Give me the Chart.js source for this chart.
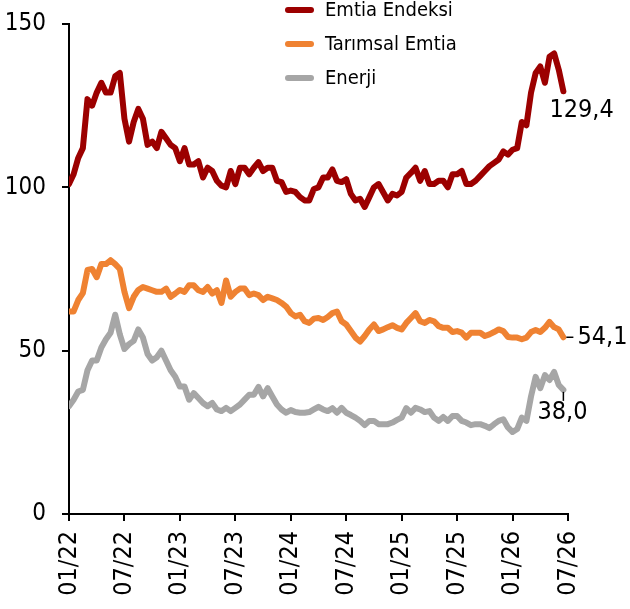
<!DOCTYPE html>
<html>
<head>
<meta charset="utf-8">
<script src="https://cdn.jsdelivr.net/npm/chart.js@4.4.0/dist/chart.umd.min.js"></script>
<style>
  html, body { margin: 0; padding: 0; background: #fff; }
</style>
</head>
<body>
<canvas id="chart" width="630" height="609"></canvas>
<script>
// tick labels every 6 months, data every half month from 01/22
const tickLabels = ['01/22', '07/22', '01/23', '07/23', '01/24', '07/24', '01/25', '07/25', '01/26', '07/26'];
const seriesNames = ['Emtia Endeksi', 'Tarımsal Emtia', 'Enerji'];

const emtia = [
  101, 104, 109, 112, 127, 125, 129, 132, 129, 129, 134, 135,
  121, 114, 120, 124, 121, 113, 114, 112, 117, 115, 113, 112,
  108, 112, 107, 107, 108, 103, 106, 105, 102, 100.5, 100, 105,
  101, 106, 106, 104, 106, 107.7, 105, 106, 106, 102, 101.6, 98.6,
  99, 98.6, 97, 96, 96, 99.5, 100, 103, 103, 105.5, 102, 101.6,
  102.5, 98, 96, 96.5, 94, 97, 100, 101, 98.5, 96, 98, 97.5,
  98.6, 103, 104.4, 106, 102, 105, 101, 101, 102, 102, 100, 104,
  104, 105, 101, 101, 102, 103.5, 105, 106.5, 107.5, 108.5, 111, 110,
  111.5, 112, 120, 119, 129, 135, 137, 132, 140, 141, 136, 129.4
];
const tarim = [
  62, 62, 65.5, 67.6, 74.7, 75, 72.5, 76.5, 76.5, 77.7, 76.5, 75,
  68, 63, 66.5, 68.6, 69.5, 69, 68.5, 68, 68, 69, 66.5, 67.5,
  68.6, 68, 70, 70, 68.5, 68, 69.5, 67.5, 68.5, 64.6, 71.5, 66.5,
  68, 69, 69, 67, 67.5, 67, 65.5, 66.5, 66, 65.5, 64.6, 63.5,
  61.5, 60.5, 61, 59, 58.5, 59.8, 60, 59.4, 60.3, 61.5, 62, 59,
  58, 56, 54, 52.8, 54.5, 56.5, 58, 56, 56.5, 57.2, 57.8, 57,
  56.5, 58.5, 60, 61.5, 59, 58.5, 59.4, 59, 57.5, 57, 57, 55.7,
  56, 55.5, 54, 55.5, 55.5, 55.5, 54.5, 55, 55.7, 56.5, 56, 54.2,
  54, 54, 53.5, 54, 55.7, 56.3, 55.7, 57, 58.8, 57.2, 56.5, 54.1
];
const enerji = [
  33, 35, 37.5, 38, 44, 47, 47, 51, 53.5, 55.5, 61, 55,
  50.5, 52, 53, 56.5, 54, 49, 47, 48, 50, 47, 44, 42,
  39, 39, 35, 37, 35.5, 34, 33, 34, 32, 31.5, 32.5, 31.5,
  32.5, 33.5, 35, 36.5, 36.5, 38.9, 36, 38.5, 36, 33.5, 32, 31,
  31.8, 31.2, 31, 31, 31.2, 32, 32.8, 32, 31.5, 32.4, 31, 32.5,
  31, 30.3, 29.5, 28.5, 27.2, 28.5, 28.5, 27.5, 27.5, 27.5, 28, 28.8,
  29.5, 32.4, 31, 32.5, 32, 31.2, 31.5, 29.5, 28.5, 29.7, 28.5, 30,
  30, 28.5, 28, 27.2, 27.5, 27.5, 27, 26.3, 27.5, 28.5, 29, 26.5,
  25.1, 26, 29.5, 28.5, 36, 42, 38.5, 42.5, 41, 43.5, 39.5, 38
];

const months = emtia.map((_, i) => i / 2);
const colors = ['#9c0000', '#ef8232', '#a6a6a6'];
const FONT = '"DejaVu Sans Condensed", "DejaVu Sans", sans-serif';

const toPoints = arr => arr.map((v, i) => ({ x: months[i], y: v }));
const fmt = v => v.toFixed(1).replace('.', ',');

// where the last-value label sits relative to the final point
const endLabel = [
  { dx: -14, dy: 19, lead: null },
  { dx: 14, dy: 0, lead: 'h' },
  { dx: -26, dy: 23, lead: 'v' }
];

const endLabels = {
  id: 'endLabels',
  afterDatasetsDraw(chart) {
    const ctx = chart.ctx;
    ctx.save();
    ctx.font = '25px ' + FONT;
    ctx.fillStyle = '#000';
    ctx.strokeStyle = '#000';
    ctx.lineWidth = 1.5;
    ctx.textAlign = 'left';
    ctx.textBaseline = 'middle';
    chart.data.datasets.forEach((ds, i) => {
      const pts = chart.getDatasetMeta(i).data;
      const p = pts[pts.length - 1];
      const s = endLabel[i];
      if (s.lead === 'h') {
        ctx.beginPath(); ctx.moveTo(p.x + 3, p.y); ctx.lineTo(p.x + 10, p.y); ctx.stroke();
      } else if (s.lead === 'v') {
        ctx.beginPath(); ctx.moveTo(p.x, p.y + 2); ctx.lineTo(p.x, p.y + 11); ctx.stroke();
      }
      ctx.fillText(fmt(ds.data[ds.data.length - 1].y), p.x + s.dx, p.y + s.dy);
    });
    ctx.restore();
  }
};

const legendBox = {
  id: 'legendBox',
  afterDraw(chart) {
    const ctx = chart.ctx;
    ctx.save();
    ctx.font = '20px ' + FONT;
    ctx.textBaseline = 'middle';
    ctx.lineCap = 'round';
    chart.data.datasets.forEach((ds, i) => {
      const y = 10 + i * 34;
      ctx.strokeStyle = ds.borderColor;
      ctx.lineWidth = 6;
      ctx.beginPath(); ctx.moveTo(288, y); ctx.lineTo(311, y); ctx.stroke();
      ctx.fillStyle = '#000';
      ctx.fillText(ds.label, 325, y + 1);
    });
    ctx.restore();
  }
};

new Chart(document.getElementById('chart'), {
  type: 'line',
  data: {
    datasets: [
      { label: seriesNames[0], data: toPoints(emtia), borderColor: colors[0] },
      { label: seriesNames[1], data: toPoints(tarim), borderColor: colors[1] },
      { label: seriesNames[2], data: toPoints(enerji), borderColor: colors[2] }
    ]
  },
  options: {
    responsive: false,
    animation: false,
    devicePixelRatio: 1,
    layout: { padding: { top: 24, right: 62, left: 0, bottom: 0 } },
    elements: {
      line: { borderWidth: 6, borderJoinStyle: 'round', borderCapStyle: 'round', tension: 0 },
      point: { radius: 0 }
    },
    plugins: { legend: { display: false }, tooltip: { enabled: false } },
    scales: {
      x: {
        type: 'linear',
        min: 0,
        max: 54,
        afterFit: axis => { axis.height = 95; },
        border: { display: true, color: '#000', width: 2 },
        grid: { drawOnChartArea: false, drawTicks: true, tickLength: 7, color: '#000', lineWidth: 2 },
        ticks: {
          stepSize: 6,
          autoSkip: false,
          minRotation: 90,
          maxRotation: 90,
          padding: 10,
          color: '#000',
          font: { family: FONT, size: 25 },
          callback: v => (v % 6 === 0 ? tickLabels[v / 6] : null)
        }
      },
      y: {
        min: 0,
        max: 150,
        afterFit: axis => { axis.width = 69; axis.paddingTop = 0; axis.paddingBottom = 0; },
        border: { display: true, color: '#000', width: 2 },
        grid: { drawOnChartArea: false, drawTicks: true, tickLength: 7, color: '#000', lineWidth: 2 },
        ticks: {
          stepSize: 50,
          padding: 16,
          color: '#000',
          font: { family: FONT, size: 24 }
        }
      }
    }
  },
  plugins: [endLabels, legendBox]
});
</script>
</body>
</html>
